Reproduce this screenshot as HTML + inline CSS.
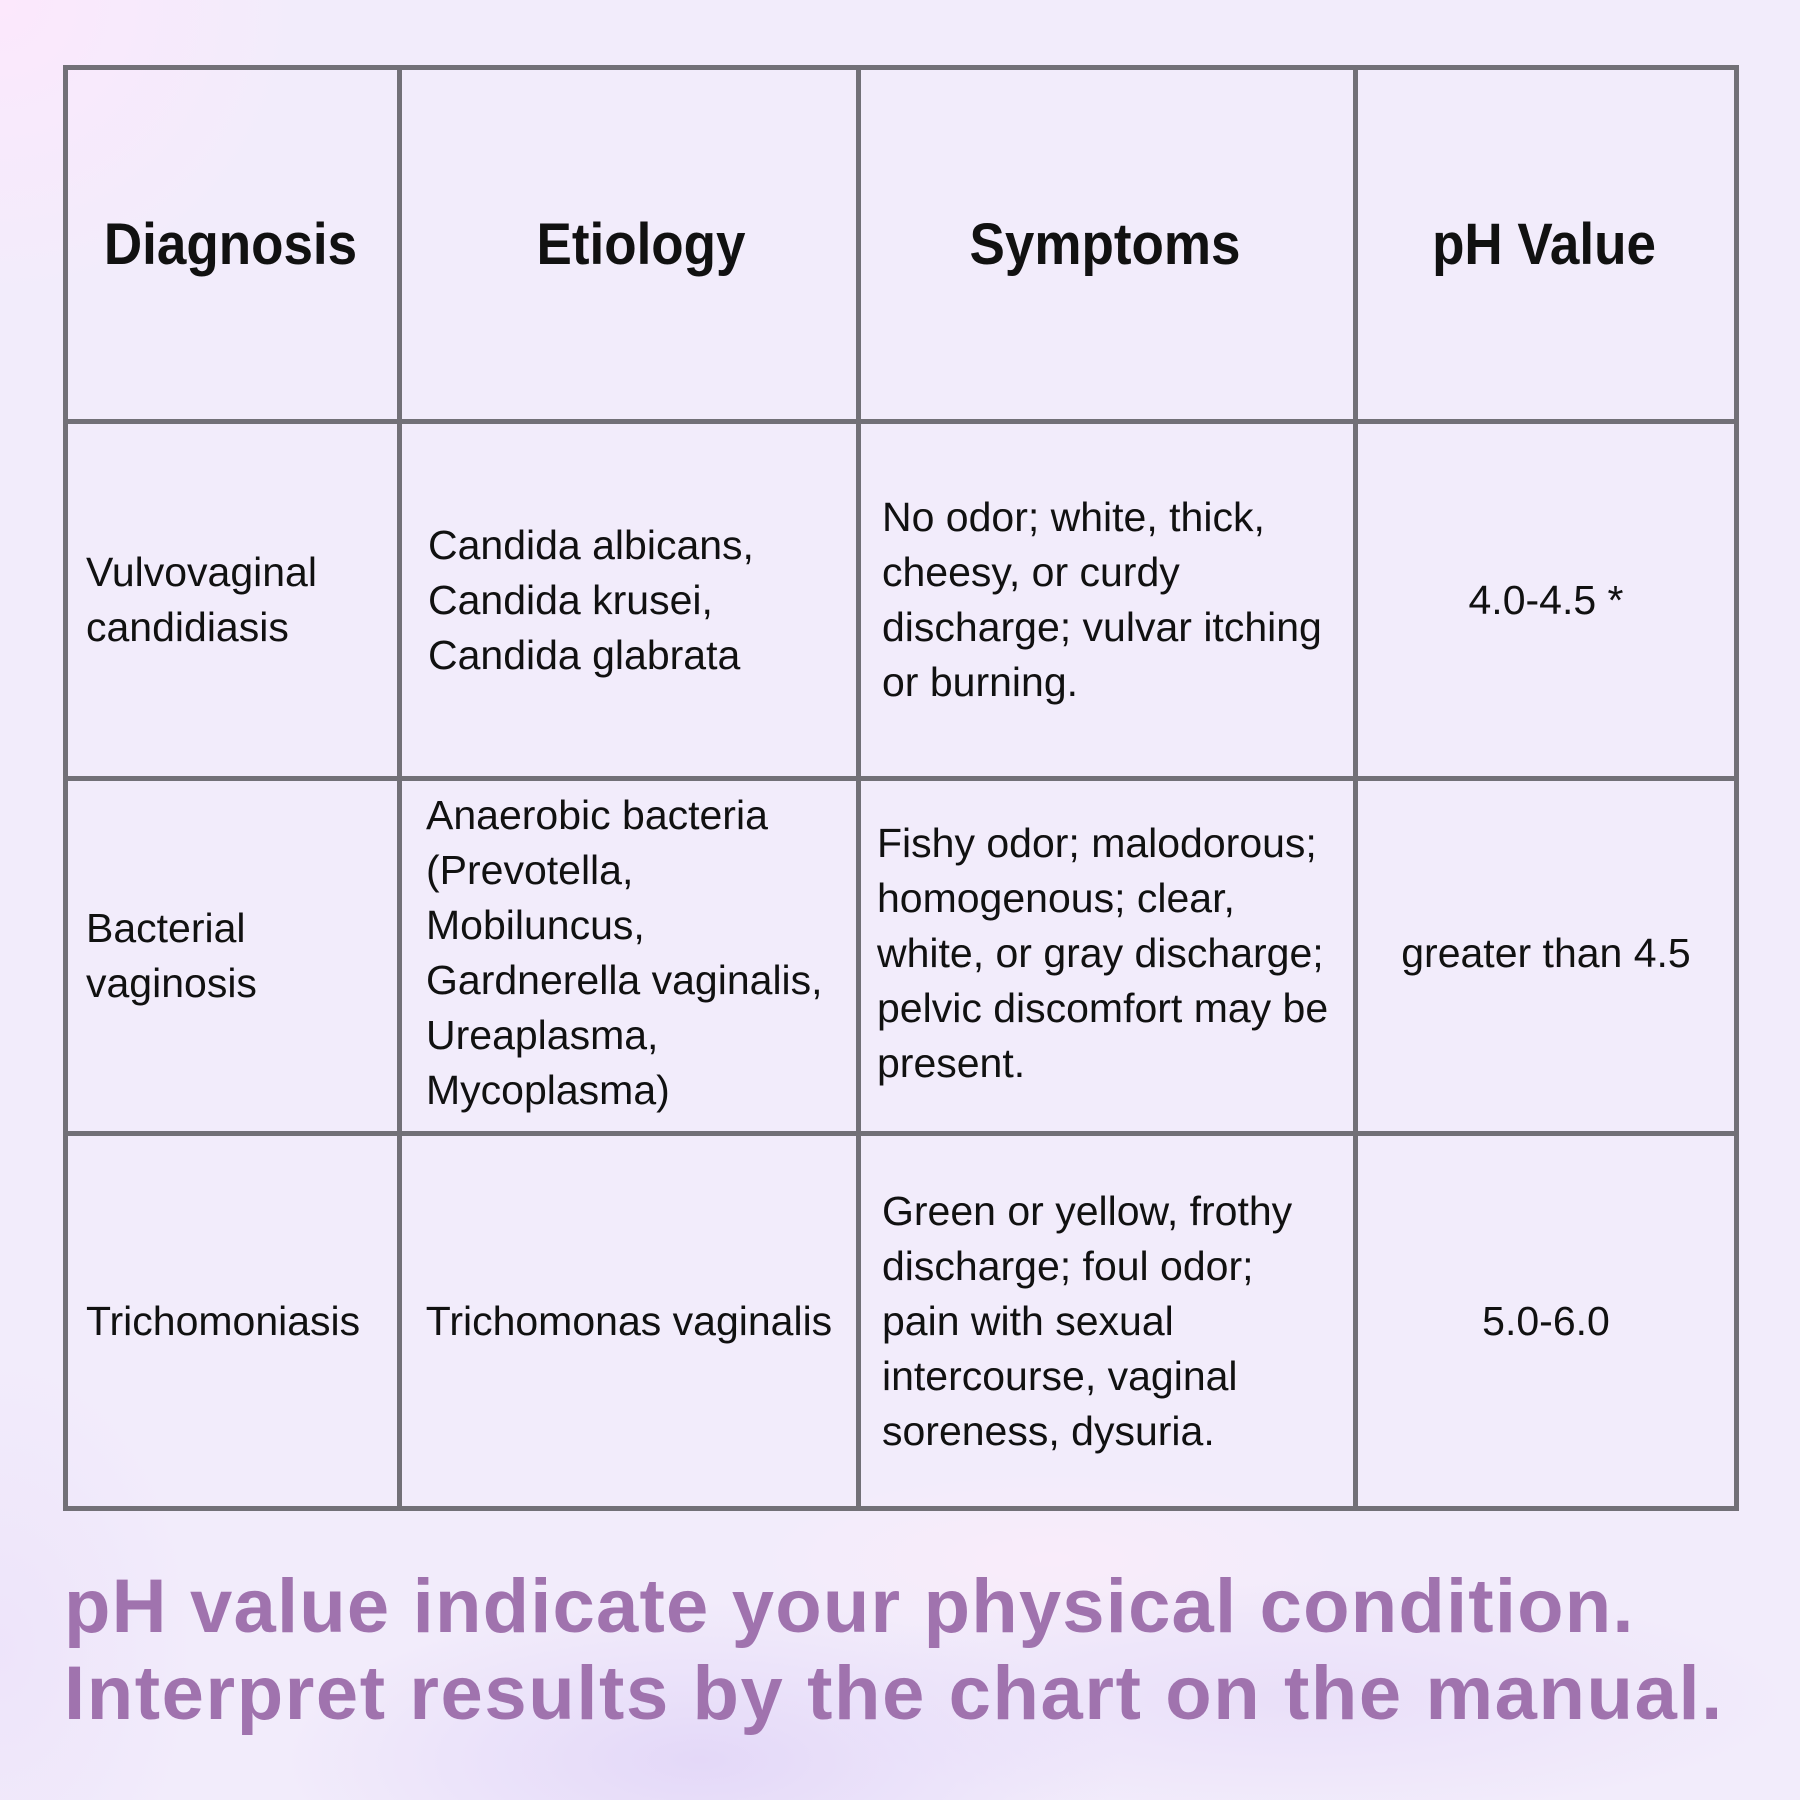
<!DOCTYPE html>
<html>
<head>
<meta charset="utf-8">
<style>
  html,body{margin:0;padding:0;}
  body{
    width:1800px;height:1800px;position:relative;overflow:hidden;
    font-family:"Liberation Sans",sans-serif;
    background:
      radial-gradient(ellipse 300px 300px at 0px 0px, rgba(252,232,252,1) 0%, rgba(252,232,252,0) 100%),
      radial-gradient(ellipse 420px 160px at 700px 1760px, rgba(226,214,248,0.9) 0%, rgba(226,214,248,0) 100%),
      radial-gradient(ellipse 500px 120px at 1300px 1700px, rgba(230,218,248,0.7) 0%, rgba(230,218,248,0) 100%),
      radial-gradient(ellipse 300px 90px at 1050px 1560px, rgba(250,236,250,0.9) 0%, rgba(250,236,250,0) 100%),
      radial-gradient(ellipse 200px 300px at 0px 1650px, rgba(236,226,250,0.8) 0%, rgba(236,226,250,0) 100%),
      #f2ecfb;
  }
  .ln{position:absolute;background:#727077;}
  .cell{position:absolute;display:flex;align-items:center;box-sizing:border-box;color:#111;}
  .hd{justify-content:center;font-weight:bold;font-size:53px;}
  .hd span{display:inline-block;transform:scaleY(1.1);white-space:nowrap;}
  .bd{font-size:41px;line-height:55px;white-space:nowrap;}
  .ctr{justify-content:center;}
  .foot{position:absolute;left:64px;top:1563px;font-weight:bold;font-size:76px;line-height:87px;color:#a073ae;letter-spacing:1.2px;white-space:nowrap;}
</style>
</head>
<body>
<!-- grid lines -->
<div class="ln" style="left:63px;top:65px;width:5px;height:1446px;"></div>
<div class="ln" style="left:397px;top:65px;width:5px;height:1446px;"></div>
<div class="ln" style="left:856px;top:65px;width:5px;height:1446px;"></div>
<div class="ln" style="left:1353px;top:65px;width:5px;height:1446px;"></div>
<div class="ln" style="left:1734px;top:65px;width:5px;height:1446px;"></div>
<div class="ln" style="left:63px;top:65px;width:1676px;height:5px;"></div>
<div class="ln" style="left:63px;top:419px;width:1676px;height:5px;"></div>
<div class="ln" style="left:63px;top:776px;width:1676px;height:5px;"></div>
<div class="ln" style="left:63px;top:1131px;width:1676px;height:5px;"></div>
<div class="ln" style="left:63px;top:1506px;width:1676px;height:5px;"></div>

<!-- header -->
<div class="cell hd" style="left:66px;top:70px;width:329px;height:349px;"><span>Diagnosis</span></div>
<div class="cell hd" style="left:414px;top:70px;width:454px;height:349px;"><span>Etiology</span></div>
<div class="cell hd" style="left:859px;top:70px;width:492px;height:349px;"><span>Symptoms</span></div>
<div class="cell hd" style="left:1356px;top:70px;width:376px;height:349px;"><span>pH Value</span></div>

<!-- row 1 -->
<div class="cell bd" style="left:86px;top:424px;width:310px;height:352px;"><div>Vulvovaginal<br>candidiasis</div></div>
<div class="cell bd" style="left:428px;top:424px;width:425px;height:352px;"><div>Candida albicans,<br>Candida krusei,<br>Candida glabrata</div></div>
<div class="cell bd" style="left:882px;top:424px;width:470px;height:352px;"><div>No odor; white, thick,<br>cheesy, or curdy<br>discharge; vulvar itching<br>or burning.</div></div>
<div class="cell bd ctr" style="left:1358px;top:424px;width:376px;height:352px;"><div>4.0-4.5 *</div></div>

<!-- row 2 -->
<div class="cell bd" style="left:86px;top:781px;width:310px;height:350px;"><div>Bacterial<br>vaginosis</div></div>
<div class="cell bd" style="left:426px;top:778px;width:429px;height:350px;"><div>Anaerobic bacteria<br>(Prevotella,<br>Mobiluncus,<br>Gardnerella vaginalis,<br>Ureaplasma,<br>Mycoplasma)</div></div>
<div class="cell bd" style="left:877px;top:778px;width:475px;height:350px;"><div>Fishy odor; malodorous;<br>homogenous; clear,<br>white, or gray discharge;<br>pelvic discomfort may be<br>present.</div></div>
<div class="cell bd ctr" style="left:1358px;top:778px;width:376px;height:350px;"><div>greater than 4.5</div></div>

<!-- row 3 -->
<div class="cell bd" style="left:86px;top:1136px;width:310px;height:370px;"><div>Trichomoniasis</div></div>
<div class="cell bd ctr" style="left:402px;top:1136px;width:454px;height:370px;"><div>Trichomonas vaginalis</div></div>
<div class="cell bd" style="left:882px;top:1136px;width:470px;height:370px;"><div>Green or yellow, frothy<br>discharge; foul odor;<br>pain with sexual<br>intercourse, vaginal<br>soreness, dysuria.</div></div>
<div class="cell bd ctr" style="left:1358px;top:1136px;width:376px;height:370px;"><div>5.0-6.0</div></div>

<!-- footer -->
<div class="foot">pH value indicate your physical condition.<br><span style="letter-spacing:1.6px">Interpret results by the chart on the manual.</span></div>
</body>
</html>
